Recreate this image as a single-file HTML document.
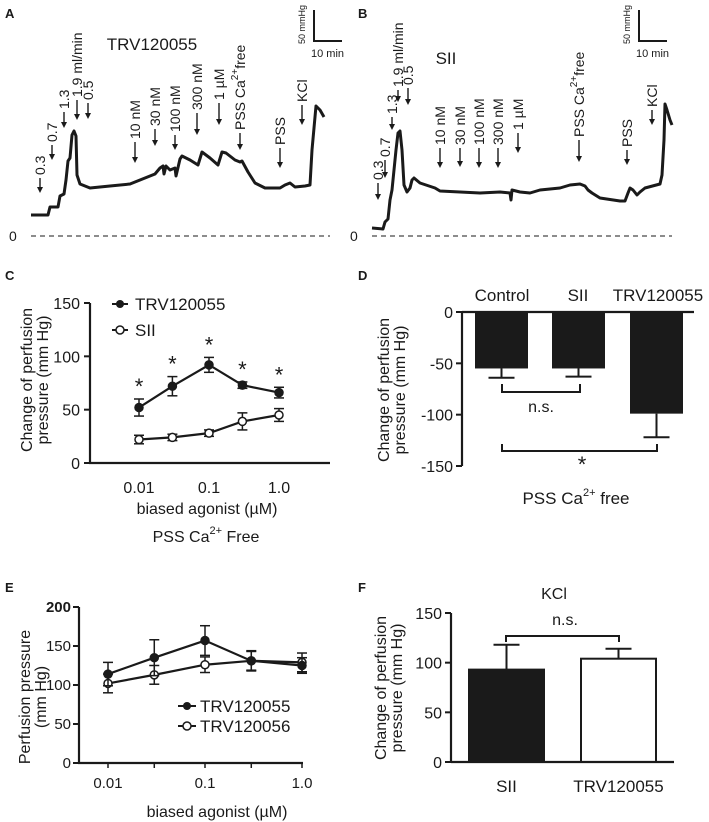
<!DOCTYPE html>
<html><head><meta charset="utf-8"><style>
html,body{margin:0;padding:0;background:#fff}
svg{display:block;font-family:"Liberation Sans",sans-serif}
</style></head><body>
<svg id="fig" width="709" height="822" viewBox="0 0 709 822" xmlns="http://www.w3.org/2000/svg">
<g id="root"></g>
</svg>
<script>
// ---- Panel A/B traces ----
const traceATime=[31,48,50,58,60,64,66,68,70,72,74,76,77,80,90,110,130,140,150,155,160,163,164,166,170,175,176,180,182,190,198,202,210,218,222,226,235,240,242,248,255,265,280,285,290,295,305,310,312,316,320,324];
const traceAVal=[215,215,207,207,196,194,180,161,158,135,131,136,175,184,188,186,184,180,176,174,168,166,174,166,170,168,176,159,156,160,165,152,158,165,152,153,160,162,161,172,183,188,188,185,183,187,186,185,150,106,110,117];
const traceBTime=[372,383,385,388,390,392,394,396,398,400,402,404,407,410,412,414,420,435,440,460,480,500,510,511,512,520,530,540,560,570,580,585,588,592,600,620,625,628,630,633,637,640,645,660,662,664,665,667,670,672];
const traceBVal=[228,229,222,219,200,190,170,150,133,131,150,185,192,188,180,178,183,188,191,192,193,192,193,200,190,192,193,190,188,185,184,186,190,193,198,201,201,193,188,190,195,192,188,184,175,140,104,110,120,125];
const arrowsAx=[40,52,64,77,88,135,155,175,197,219,240,280,302];
const arrowsATop=[178,145,112,100,103,142,129,135,113,103,133,148,105];
const arrowsALen=[15,15,16,20,16,21,17,15,22,22,17,20,20];
const arrowsALabel=["0.3","0.7","1.3","1.9 ml/min","0.5","10 nM","30 nM","100 nM","300 nM","1 µM","PSS Ca|free","PSS","KCl"];
const arrowsBx=[378,385,392,398,408,440,460,479,498,518,579,627,652];
const arrowsBTop=[183,160,117,90,88,148,148,148,148,133,140,150,110];
const arrowsBLen=[17,18,13,12,17,20,19,20,20,20,22,15,15];
const arrowsBLabel=["0.3","0.7","1.3","1.9 ml/min","0.5","10 nM","30 nM","100 nM","300 nM","1 µM","PSS Ca|free","PSS","KCl"];
// ---- Panel C ----
const cDoses=[0.01,0.03,0.1,0.3,1.0];
const cTRV=[52,72,92,73,66];
const cTRVerr=[8,9,7,3,5];
const cSII=[22,24,28,39,45];
const cSIIerr=[4,3,3,8,6];
const cYTicks=[0,50,100,150];
const cXTicks=[0.01,0.1,1.0];
const cXTickLabels=["0.01","0.1","1.0"];
// ---- Panel D ----
const dCats=["Control","SII","TRV120055"];
const dVals=[-55,-55,-99];
const dErr=[9,8,23];
const dYTicks=[0,-50,-100,-150];
// ---- Panel E ----
const eDoses=[0.01,0.03,0.1,0.3,1.0];
const eTRV55=[114,135,157,131,125];
const eTRV55err=[15,23,19,12,10];
const eTRV56=[102,113,126,131,129];
const eTRV56err=[12,12,10,13,12];
const eYTicks=[0,50,100,150,200];
const eXTickLabels=["0.01","0.1","1.0"];
const eXTicks=[0.01,0.1,1.0];
// ---- Panel F ----
const fCats=["SII","TRV120055"];
const fVals=[93,104];
const fErr=[25,10];
const fYTicks=[0,50,100,150];

const NS="http://www.w3.org/2000/svg";
const root=document.getElementById('root');
function el(tag,attrs,parent,text){const e=document.createElementNS(NS,tag);for(const k in attrs)e.setAttribute(k,attrs[k]);if(text!==undefined)e.textContent=text;(parent||root).appendChild(e);return e;}
function line(x1,y1,x2,y2,p,w,extra){return el('line',Object.assign({x1,y1,x2,y2,stroke:'#1a1a1a','stroke-width':w||2},extra||{}),p);}
function txt(x,y,s,size,p,anchor,extra){return el('text',Object.assign({x,y,'font-size':size,'text-anchor':anchor||'middle',fill:'#1a1a1a'},extra||{}),p,s);}
function group(name){const g=el('g',{});return g;}

[["A",5,18],["B",358,18],["C",5,280],["D",358,280],["E",5,592],["F",358,592]].forEach(a=>{const t=txt(a[1],a[2],a[0],13,root,'start',{'font-weight':'bold'});});

function rotLabel(g,x,y,label,size){
  const t=el('text',{transform:`translate(${x+5},${y}) rotate(-90)`,'font-size':size,'text-anchor':'start',fill:'#1a1a1a'},g);
  if(label.indexOf('|')>=0){const parts=label.split('|');
    el('tspan',{},t,parts[0]);el('tspan',{'font-size':10,dy:-7},t,'2+');el('tspan',{dy:7},t,parts[1]);}
  else t.textContent=label;
  return t;
}
function arrow(g,x,top,len,label){
  line(x,top,x,top+len-5,g,1.4);
  el('path',{d:`M${x-3},${top+len-6} L${x+3},${top+len-6} L${x},${top+len} Z`,fill:'#1a1a1a'},g);
  rotLabel(g,x,top-3,label,14);
}
function trace(name,xs,ys,zeroX1,zeroX2,title,tx,ty,ax,atop,alen,alab,sx){
  const g=group(name);
  const d=xs.map((x,i)=>(i?'L':'M')+x+','+ys[i]).join(' ');
  const p=el('path',{d,fill:'none',stroke:'#1a1a1a','stroke-width':3,'stroke-linejoin':'round'},g);
  
  
  line(zeroX1,236,zeroX2,236,g,1,{'stroke-dasharray':'5,4'});
  txt(zeroX1-22,241,'0',14,g,'start');
  txt(tx,ty,title,17,g);
  for(let i=0;i<ax.length;i++)arrow(g,ax[i],atop[i],alen[i],alab[i]);
  line(sx,10,sx,42,g,2);line(sx,41,sx+28,41,g,2);
  el('text',{transform:`translate(${sx-9},44) rotate(-90)`,'font-size':9,fill:'#1a1a1a'},g,'50 mmHg');
  txt(sx-3,57,'10 min',11,g,'start');
}
trace('panel-a-trace',traceATime,traceAVal,31,330,'TRV120055',152,50,arrowsAx,arrowsATop,arrowsALen,arrowsALabel,314);
trace('panel-b-trace',traceBTime,traceBVal,372,672,'SII',446,64,arrowsBx,arrowsBTop,arrowsBLen,arrowsBLabel,639);

// ---------- Panel C ----------
(function(){
  const g=group('panel-c-dose-response');
  const X0=90,X1=330,Y0=463,Y1=303;
  const xs=v=>139+70*Math.log10(v/0.01);
  const ys=v=>Y0-(v/150)*(Y0-Y1);
  line(X0,Y1,X0,Y0+1,g,2.2);line(X0-1,Y0,X1,Y0,g,2.2);
  cYTicks.forEach(t=>{line(X0-6,ys(t),X0,ys(t),g,2);txt(X0-10,ys(t)+6,String(t),16,g,'end');});
  cXTicks.forEach((t,i)=>txt(xs(t),493,cXTickLabels[i],16,g));
  txt(207,514,'biased agonist (µM)',16,g);
  const t2=txt(206,542,'PSS Ca',16,g);el('tspan',{'font-size':11,dy:-8},t2,'2+');el('tspan',{dy:8},t2,' Free');
  el('text',{transform:'translate(32,380) rotate(-90)','font-size':16,'text-anchor':'middle',fill:'#1a1a1a'},g,'Change of perfusion');
  el('text',{transform:'translate(48,380) rotate(-90)','font-size':16,'text-anchor':'middle',fill:'#1a1a1a'},g,'pressure (mm Hg)');
  function series(vals,errs,filled,name,star){
    const sg=group(name);g.appendChild(sg);
    el('path',{d:cDoses.map((d,i)=>(i?'L':'M')+xs(d)+','+ys(vals[i])).join(' '),fill:'none',stroke:'#1a1a1a','stroke-width':2.2},sg);
    cDoses.forEach((d,i)=>{const x=xs(d);line(x,ys(vals[i]-errs[i]),x,ys(vals[i]+errs[i]),sg,1.5);
      line(x-5,ys(vals[i]+errs[i]),x+5,ys(vals[i]+errs[i]),sg,1.5);line(x-5,ys(vals[i]-errs[i]),x+5,ys(vals[i]-errs[i]),sg,1.5);
      const c=el('circle',{cx:x,cy:ys(vals[i]),r:4,fill:filled?'#1a1a1a':'#fff',stroke:'#1a1a1a','stroke-width':1.5},sg);
      
      
      if(star)txt(x,ys(vals[i]+errs[i])-5,'*',22,sg);});
  }
  series(cSII,cSIIerr,false,'sii-series',false);
  series(cTRV,cTRVerr,true,'trv120055-series',true);
  const lg=group('legend');g.appendChild(lg);
  line(112,304,128,304,lg,2);el('circle',{cx:120,cy:304,r:4,fill:'#1a1a1a'},lg);txt(135,310,'TRV120055',17,lg,'start');
  line(112,330,128,330,lg,2);el('circle',{cx:120,cy:330,r:4,fill:'#fff',stroke:'#1a1a1a','stroke-width':1.5},lg);txt(135,336,'SII',17,lg,'start');
})();

// ---------- Panel D ----------
(function(){
  const g=group('panel-d-bar-chart');
  const X0=462,X1=694,Y0=312,Y1=466;
  const ys=v=>Y0+(v/-150)*(Y1-Y0);
  const bx=[475,552,630],bw=53;
  dCats.forEach((c,i)=>{
    const r=el('rect',{x:bx[i],y:Y0,width:bw,height:ys(dVals[i])-Y0,fill:'#1a1a1a'},g);
    
    
    const cx=bx[i]+bw/2;line(cx,ys(dVals[i]),cx,ys(dVals[i]-dErr[i]),g,2);line(cx-13,ys(dVals[i]-dErr[i]),cx+13,ys(dVals[i]-dErr[i]),g,2);
  });
  txt(502,301,dCats[0],17,g);txt(578,301,dCats[1],17,g);txt(658,301,dCats[2],17,g);
  line(X0,Y0-1,X0,Y1,g,2.2);line(X0,Y0,X1,Y0,g,2.2);
  dYTicks.forEach(t=>{line(X0-6,ys(t),X0,ys(t),g,2);txt(X0-9,ys(t)+6,String(t),16,g,'end');});
  el('path',{d:'M502,384 L502,392 L580,392 L580,384',fill:'none',stroke:'#1a1a1a','stroke-width':2},g);
  txt(541,412,'n.s.',16,g);
  el('path',{d:'M502,444 L502,451 L657,451 L657,444',fill:'none',stroke:'#1a1a1a','stroke-width':2},g);
  txt(582,472,'*',22,g);
  const t2=txt(576,504,'PSS Ca',17,g);el('tspan',{'font-size':11,dy:-8},t2,'2+');el('tspan',{dy:8},t2,' free');
  el('text',{transform:'translate(389,390) rotate(-90)','font-size':16,'text-anchor':'middle',fill:'#1a1a1a'},g,'Change of perfusion');
  el('text',{transform:'translate(405,390) rotate(-90)','font-size':16,'text-anchor':'middle',fill:'#1a1a1a'},g,'pressure (mm Hg)');
})();

// ---------- Panel E ----------
(function(){
  const g=group('panel-e-dose-response');
  const X0=79,X1=303,Y0=763,Y1=607;
  const xs=v=>108+97*Math.log10(v/0.01);
  const ys=v=>Y0-(v/200)*(Y0-Y1);
  line(X0,Y1,X0,Y0+1,g,2.2);line(X0-1,Y0,X1,Y0,g,2.2);
  eYTicks.forEach(t=>{line(X0-6,ys(t),X0,ys(t),g,2);txt(X0-8,ys(t)+5,String(t),15,g,'end',t===200?{'font-weight':'bold'}:{});});
  eDoses.forEach(d=>line(xs(d),Y0,xs(d),Y0+5,g,1.5));
  eXTicks.forEach((t,i)=>txt(xs(t),788,eXTickLabels[i],15,g));
  txt(217,817,'biased agonist  (µM)',16,g);
  el('text',{transform:'translate(30,697) rotate(-90)','font-size':16,'text-anchor':'middle',fill:'#1a1a1a'},g,'Perfusion pressure');
  el('text',{transform:'translate(46,697) rotate(-90)','font-size':16,'text-anchor':'middle',fill:'#1a1a1a'},g,'(mm Hg)');
  function series(vals,errs,filled,name){
    const sg=group(name);g.appendChild(sg);
    el('path',{d:eDoses.map((d,i)=>(i?'L':'M')+xs(d)+','+ys(vals[i])).join(' '),fill:'none',stroke:'#1a1a1a','stroke-width':2.2},sg);
    eDoses.forEach((d,i)=>{const x=xs(d);line(x,ys(vals[i]-errs[i]),x,ys(vals[i]+errs[i]),sg,1.5);
      line(x-5,ys(vals[i]+errs[i]),x+5,ys(vals[i]+errs[i]),sg,1.5);line(x-5,ys(vals[i]-errs[i]),x+5,ys(vals[i]-errs[i]),sg,1.5);
      const c=el('circle',{cx:x,cy:ys(vals[i]),r:4,fill:filled?'#1a1a1a':'#fff',stroke:'#1a1a1a','stroke-width':1.5},sg);
      
      });
  }
  series(eTRV56,eTRV56err,false,'trv120056-series');
  series(eTRV55,eTRV55err,true,'trv120055-series');
  const lg=group('legend');g.appendChild(lg);
  line(178,706,196,706,lg,2);el('circle',{cx:187,cy:706,r:4,fill:'#1a1a1a'},lg);txt(200,712,'TRV120055',17,lg,'start');
  line(178,726,196,726,lg,2);el('circle',{cx:187,cy:726,r:4,fill:'#fff',stroke:'#1a1a1a','stroke-width':1.5},lg);txt(200,732,'TRV120056',17,lg,'start');
})();

// ---------- Panel F ----------
(function(){
  const g=group('panel-f-bar-chart');
  const X0=451,X1=674,Y0=762,Y1=613;
  const ys=v=>Y0-(v/150)*(Y0-Y1);
  const bx=[469,581],bw=75,fills=['#1a1a1a','#fff'];
  fCats.forEach((c,i)=>{
    const r=el('rect',{x:bx[i],y:ys(fVals[i]),width:bw,height:Y0-ys(fVals[i]),fill:fills[i],stroke:'#1a1a1a','stroke-width':2},g);
    
    
    const cx=bx[i]+bw/2;line(cx,ys(fVals[i]),cx,ys(fVals[i]+fErr[i]),g,2);line(cx-13,ys(fVals[i]+fErr[i]),cx+13,ys(fVals[i]+fErr[i]),g,2);
    txt(cx,792,c,17,g);
  });
  line(X0,Y1,X0,Y0+1,g,2.2);line(X0,Y0,X1,Y0,g,2.2);
  fYTicks.forEach(t=>{line(X0-6,ys(t),X0,ys(t),g,2);txt(X0-9,ys(t)+6,String(t),16,g,'end');});
  el('path',{d:'M506,642 L506,636 L619,636 L619,642',fill:'none',stroke:'#1a1a1a','stroke-width':2},g);
  txt(565,625,'n.s.',16,g);
  txt(554,599,'KCl',16,g);
  el('text',{transform:'translate(386,688) rotate(-90)','font-size':16,'text-anchor':'middle',fill:'#1a1a1a'},g,'Change of perfusion');
  el('text',{transform:'translate(402,688) rotate(-90)','font-size':16,'text-anchor':'middle',fill:'#1a1a1a'},g,'pressure (mm Hg)');
})();
</script>
</body></html>
